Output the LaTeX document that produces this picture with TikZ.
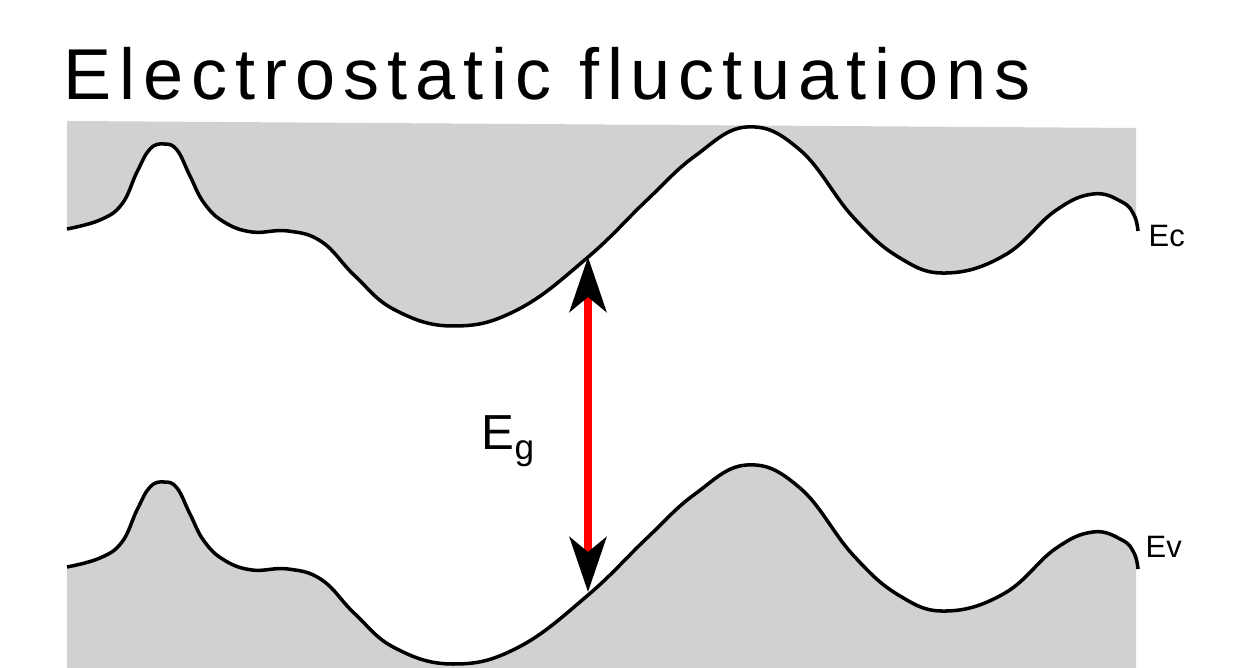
\documentclass[tikz,border=0pt]{standalone}
\usepackage{fontspec}
\setmainfont{Liberation Sans}
\newfontfamily\titlefont{Liberation Sans}[LetterSpace=11]
\usetikzlibrary{arrows.meta}
\definecolor{bandgray}{RGB}{209,209,209}
% one band edge profile, reused for Ec and Ev
\newcommand\bandedge{-- plot[smooth,tension=0.7] coordinates {(0.67,-2.29) (1.00,-2.20) (1.22,-2.04) (1.37,-1.72) (1.50,-1.49) (1.64,-1.44) (1.77,-1.50) (1.90,-1.76) (2.04,-2.03) (2.24,-2.22) (2.52,-2.32) (2.88,-2.31) (3.22,-2.42) (3.55,-2.76) (3.95,-3.10) (4.53,-3.26) (5.17,-3.10) (5.87,-2.58) (6.47,-2.00) (6.95,-1.56) (7.47,-1.27) (8.00,-1.50) (8.53,-2.17) (9.00,-2.58) (9.47,-2.73) (10.05,-2.55) (10.55,-2.11) (10.93,-1.94) (11.22,-2.02) (11.34,-2.15) (11.38,-2.31)}}

\begin{document}
\begin{tikzpicture}[every node/.style={inner sep=0pt}, band/.style={fill=bandgray}, edge/.style={draw=black,line width=1pt}, gap/.style={draw=red,line width=2pt,{Stealth[black,length=5.5mm,width=3.7mm,inset=1.5mm]}-{Stealth[black,length=5.5mm,width=3.7mm,inset=1.5mm]}}, lbl/.style={anchor=base west,font=\fontsize{8.8}{10}\selectfont}]
\useasboundingbox (0,0) rectangle (12.33,-6.68);
\node[anchor=base west,font=\titlefont\fontsize{20.5}{24}\selectfont] (title) at (0.63,-1.00) {Electrostatic fluctuations};
% conduction band shaded above, valence band shaded below
\foreach \dy/\ya/\yb in {0/-1.21/-1.28, -3.38/-3.30/-3.30}{
\begin{scope}[yshift=\dy cm]
\fill[band] (0.67,\ya) \bandedge -- (11.36,-2.31) -- (11.36,\yb) -- cycle;
\draw[edge] (0.67,-2.29) \bandedge;
\end{scope}}
\node[lbl] (ec) at (11.48,-2.47) {Ec};
\node[lbl] (ev) at (11.45,-5.58) {Ev};
\coordinate (cbtop) at (5.88,-2.57);
\coordinate (vbbot) at (5.88,-5.92);
\draw[gap] (vbbot) -- (cbtop);
\node[anchor=base west,font=\fontsize{14}{16}\selectfont] (eg) at (4.81,-4.50) {E\raisebox{-0.10cm}{\fontsize{10}{12}\selectfont g}};
\end{tikzpicture}
\end{document}
